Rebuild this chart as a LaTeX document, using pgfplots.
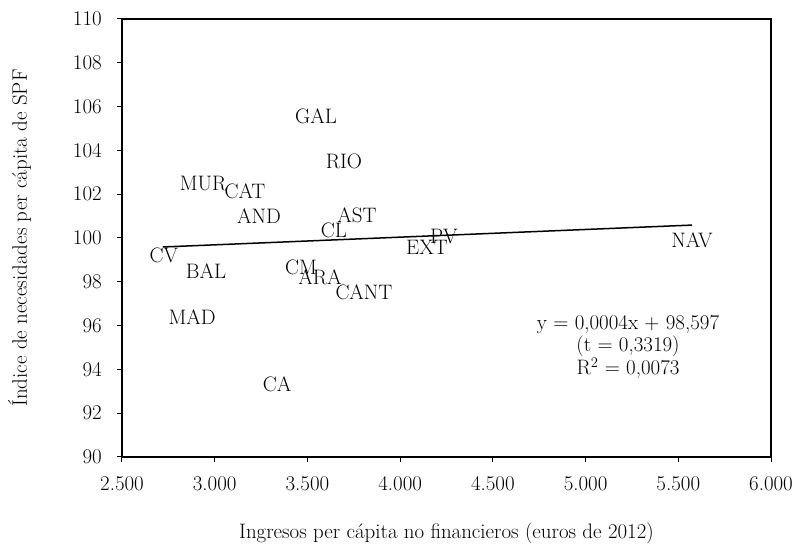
\documentclass[border=0pt]{standalone}
\usepackage{fontspec}
\usepackage{pgfplots}
\usepackage{pgfplotstable}
\pgfplotsset{compat=1.18}
\newcommand{\cfont}{\fontsize{21}{22}\selectfont}
\pgfplotstableread{
x y label
3546 105.57 GAL
3697 103.52 RIO
2937 102.51 MUR
3163 102.15 CAT
3239 101.00 AND
3767 101.05 AST
3643 100.37 CL
2726 99.22 CV
2953 98.49 BAL
3465 98.68 CM
3568 98.22 ARA
3805 97.53 CANT
2878 96.39 MAD
3336 93.33 CA
4145 99.59 EXT
4236 100.09 PV
5574 99.91 NAV
}\datatable
\begin{document}
\begin{tikzpicture}
\begin{axis}[
  scale only axis,
  width=649bp, height=438bp,
  xmin=2500, xmax=6000, ymin=90, ymax=110,
  xtick={2500,3000,...,6000},
  ytick={90,92,...,110},
  scaled x ticks=false,
  axis line style={line width=1.2bp},
  every tick/.style={black, line width=1bp},
  major tick length=5bp,
  tick align=outside,
  xtick pos=bottom, ytick pos=left,
  /pgf/number format/.cd, 1000 sep={.}, assume math mode=true,
  /pgfplots/.cd,
  tick label style={font=\cfont},
  yticklabel style={inner sep=0pt, xshift=-15bp},
  xticklabel style={inner sep=0pt, yshift=-14bp},
  xlabel={Ingresos per cápita no financieros (euros de 2012)},
  ylabel={Índice de necesidades per cápita de SPF},
  label style={font=\cfont},
  xlabel style={at={(axis description cs:0.5,-0.18493)}, anchor=base, inner sep=0pt},
  ylabel style={at={(axis description cs:-0.14638,0.5)}, anchor=base, inner sep=0pt},
  clip=false,
]
\addplot[black, line width=1.5bp] coordinates {(2721,99.59) (5574,100.59)};
\addplot[only marks, mark=none, nodes near coords, point meta=explicit symbolic,
  nodes near coords align={center},
  every node near coord/.append style={font=\cfont, inner sep=0pt, anchor=center}]
  table[x=x, y=y, meta=label]{\datatable};
\node[font=\cfont, align=center, anchor=center] at (axis cs:5229,95.02)
  {y = 0,0004x + 98,597\\(t = 0,3319)\\R\textsuperscript{2} = 0,0073};
\coordinate (bl) at (rel axis cs:0,0);
\coordinate (tr) at (rel axis cs:1,1);
\end{axis}
\path ([shift={(-122bp,-82bp)}]bl) rectangle ([shift={(26bp,19bp)}]tr);
\end{tikzpicture}
\end{document}
